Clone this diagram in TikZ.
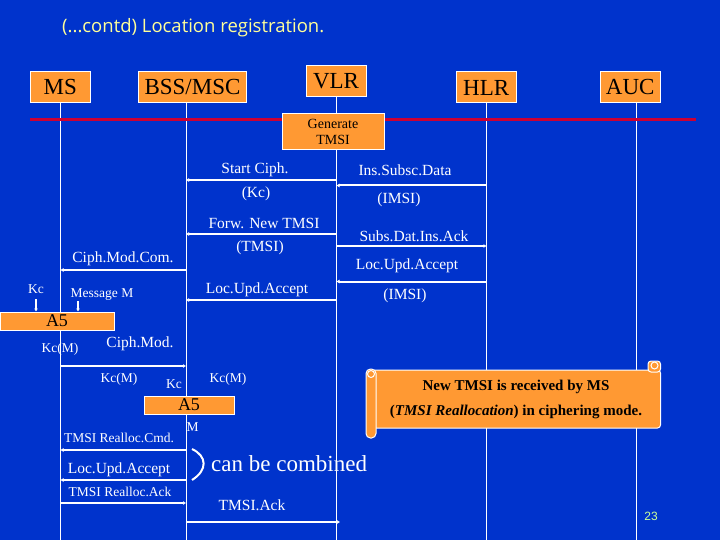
\documentclass[tikz,border=0pt]{standalone}
\usepackage{fontspec}
\setmainfont{Liberation Serif}
\newfontfamily\titlefont{Open Sans}
\newfontfamily\numfont{Liberation Sans}
\usetikzlibrary{arrows.meta,calc}
\definecolor{bgblue}{RGB}{0,51,204}
\definecolor{boxorange}{RGB}{255,153,51}
\definecolor{redline}{RGB}{204,0,51}
\definecolor{titleyellow}{RGB}{255,255,153}
\definecolor{numgreen}{RGB}{204,255,153}
\begin{document}
\begin{tikzpicture}[x=1pt,y=-1pt,
  hdr/.style={draw=white,fill=boxorange,line width=1pt,inner sep=0pt,text=black,font=\fontsize{23}{23}\selectfont},
  abox/.style={draw=white,fill=boxorange,line width=1pt,inner sep=0pt,text=black,font=\fontsize{18}{18}\selectfont},
  life/.style={draw=white,line width=1pt},
  msg/.style={draw=white,line width=2pt,-{Latex[length=3pt,width=4pt]}},
  thin/.style={draw=white,line width=1.5pt,-{Latex[length=3pt,width=4pt]}},
  lbl/.style={text=white,inner sep=0pt,font=\fontsize{15.5}{16}\selectfont},
  slbl/.style={text=white,inner sep=0pt,font=\fontsize{13.5}{14}\selectfont},
  scroll/.style={fill=boxorange,draw=white,line width=1pt}]
\useasboundingbox (0,0) rectangle (720,540);
\fill[bgblue] (0,0) rectangle (720,540);
% title
\node[anchor=west,inner sep=0pt,text=titleyellow,font=\titlefont\fontsize{18.5}{18.5}\selectfont] (title) at (62,28) {(...contd) Location registration.};
% lifeline coordinates
\coordinate (msT) at (60.5,102);  \coordinate (msB) at (60.5,540);
\coordinate (bssT) at (186,102);  \coordinate (bssB) at (186,540);
\coordinate (vlrT) at (336.5,96); \coordinate (vlrB) at (336.5,540);
\coordinate (hlrT) at (486.5,102); \coordinate (hlrB) at (486.5,540);
\coordinate (aucT) at (636.5,102); \coordinate (aucB) at (636.5,540);
\draw[life] (msT) -- (msB);
\draw[life] (bssT) -- (bssB);
\draw[life] (vlrT) -- (vlrB);
\draw[life] (hlrT) -- (hlrB);
\draw[life] (aucT) -- (aucB);
% red line
\coordinate (redL) at (30,120); \coordinate (redR) at (696,120);
\draw[redline,line width=3pt] (redL) -- (redR);
% headers
\node[hdr,minimum width=60,minimum height=31] (ms) at (60.2,87.5) {MS};
\node[hdr,minimum width=108,minimum height=31] (bss) at (192.5,87.5) {BSS/MSC};
\node[hdr,minimum width=60,minimum height=31] (vlr) at (336,81.5) {VLR};
\node[hdr,minimum width=60,minimum height=31] (hlr) at (486.2,87.5) {HLR};
\node[hdr,minimum width=60,minimum height=31] (auc) at (630.2,87.5) {AUC};
% generate TMSI
\node[draw=white,fill=boxorange,line width=1pt,minimum width=102,minimum height=36,inner sep=0pt,align=center,text=black,font=\fontsize{14}{16}\selectfont] (gen) at (333,132) {Generate\\TMSI};
% messages
\draw[msg] (vlrB |- 0,180) -- (bssB |- 0,180);
\node[lbl] (l1) at (255,170) {Start Ciph.};
\node[lbl] (l1b) at (256,194) {(Kc)};
\draw[msg] (hlrB |- 0,185.5) -- (vlrB |- 0,185.5);
\node[lbl] (l2) at (405,170) {Ins.Subsc.Data};
\node[lbl] (l2b) at (399,200) {(IMSI)};
\draw[msg] (vlrB |- 0,234) -- (bssB |- 0,234);
\node[lbl] (l3) at (264,223) {Forw. New TMSI};
\node[lbl] (l3b) at (260,248) {(TMSI)};
\draw[msg] (vlrB |- 0,246) -- (hlrB |- 0,246);
\node[lbl] (l4) at (414,236) {Subs.Dat.Ins.Ack};
\draw[msg] (bssB |- 0,270) -- (msB |- 0,270);
\node[lbl] (l5) at (123,259) {Ciph.Mod.Com.};
\draw[msg] (hlrB |- 0,281.5) -- (vlrB |- 0,281.5);
\node[lbl] (l6) at (407,266) {Loc.Upd.Accept};
\node[lbl] (l6b) at (405,296) {(IMSI)};
\draw[msg] (vlrB |- 0,300) -- (bssB |- 0,300);
\node[lbl] (l7) at (257,290) {Loc.Upd.Accept};
% A5 (MS)
\node[abox,minimum width=114,minimum height=18] (a5a) at (57,321) {A5};
\node[slbl] (kc1) at (36,289) {Kc};
\coordinate (kc1e) at (36,299);
\draw[thin] (kc1e) -- (kc1e |- a5a.north);
\node[slbl] (mm) at (102,295) {Message M};
\coordinate (mme) at (78,301);
\draw[thin] (mme) -- (mme |- a5a.north);
\node[slbl] (kcm1) at (60,349) {Kc(M)};
\node[lbl] (l8) at (140,344) {Ciph.Mod.};
\draw[msg] (msB |- 0,366) -- (bssB |- 0,366);
\node[slbl] (kcm2) at (119,379) {Kc(M)};
\node[slbl] (kc2) at (174,384) {Kc};
\node[slbl] (kcm3) at (228,379) {Kc(M)};
\node[abox,minimum width=90,minimum height=18] (a5b) at (189,405) {A5};
\node[slbl] (mlab) at (192.5,427) {M};
\draw[msg] (bssB |- 0,450) -- (msB |- 0,450);
\node[slbl] (l9) at (119,438) {TMSI Realloc.Cmd.};
\draw[msg] (bssB |- 0,480) -- (msB |- 0,480);
\node[lbl] (l10) at (119,470) {Loc.Upd.Accept};
\draw[msg] (msB |- 0,503) -- (bssB |- 0,503);
\node[slbl] (l11) at (120,492) {TMSI Realloc.Ack};
\coordinate (ackEnd) at (340,522);
\draw[msg] (bssB |- ackEnd) -- (ackEnd);
\node[lbl] (l12) at (252,505) {TMSI.Ack};
% brace
\coordinate (brT) at (192,449); \coordinate (brB) at (192,480);
\draw[white,line width=2pt] (brT) .. controls (207,456) and (208,470) .. (brB);
\node[anchor=west,inner sep=0pt,text=white,font=\fontsize{23}{23}\selectfont] (comb) at (211,464) {can be combined};
% scroll
\path[scroll,rounded corners=3] (372,370) rectangle (660.5,428);
\path[scroll,rounded corners=3] (648,361) rectangle (660.5,372);
\path[scroll] (654.5,365.5) circle (3.5);
\path[scroll,rounded corners=4.5] (366,369) rectangle (376,438);
\path[scroll] (371,374) circle (3.5);
\node[inner sep=0pt,align=center,text=black,font=\fontsize{15}{25}\selectfont\bfseries] (note) at (516,399.5) {New TMSI is received by MS\\(\textit{TMSI Reallocation}) in ciphering mode.};
% page number
\node[inner sep=0pt,text=numgreen,font=\numfont\fontsize{12}{12}\selectfont] (pg) at (651,516) {23};
\end{tikzpicture}
\end{document}
